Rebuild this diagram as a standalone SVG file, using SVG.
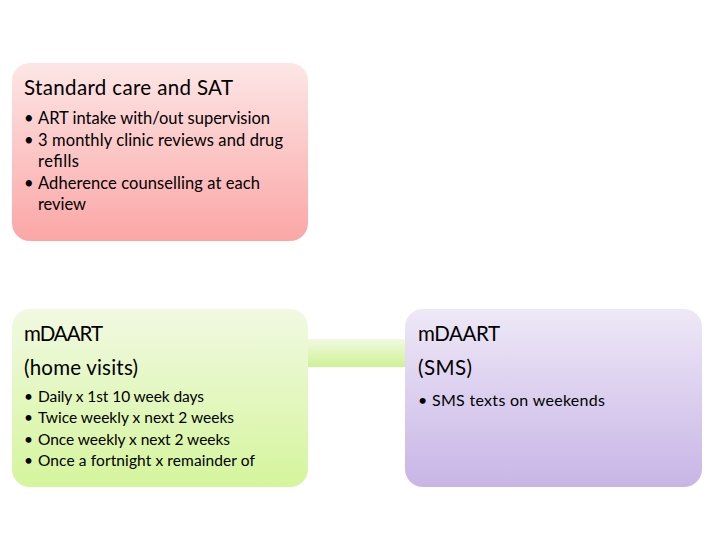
<svg xmlns="http://www.w3.org/2000/svg" width="720" height="540" viewBox="0 0 720 540">
<defs>
<linearGradient id="gPink" x1="0" y1="0" x2="0" y2="1"><stop offset="0" stop-color="#fde6e6"/><stop offset="1" stop-color="#fba6a6"/></linearGradient>
<linearGradient id="gGreen" x1="0" y1="0" x2="0" y2="1"><stop offset="0" stop-color="#f1f9e2"/><stop offset="1" stop-color="#d5f59c"/></linearGradient>
<linearGradient id="gPurple" x1="0" y1="0" x2="0" y2="1"><stop offset="0" stop-color="#eee8f7"/><stop offset="1" stop-color="#c8b5e6"/></linearGradient>
<linearGradient id="gBar" x1="0" y1="0" x2="0" y2="1"><stop offset="0" stop-color="#f1fae2"/><stop offset="1" stop-color="#cef294"/></linearGradient>
</defs>
<style>
text{font-family:Lato,"Open Sans","Liberation Sans",sans-serif;fill:#000}
.h{font-size:20.5px}
.b{font-size:16.5px}
.c{font-size:15.5px}
.s{font-size:16px}
</style>
<rect width="720" height="540" fill="#fff"/>
<g id="connectors">
<rect x="306" y="339" width="101" height="28" fill="url(#gBar)"/>
</g>
<g id="standard">
<rect x="12" y="63" width="296" height="178" rx="18" fill="url(#gPink)"/>
<text class="h" x="24" y="95" textLength="209">Standard care and SAT</text>
<text class="b" x="24" y="124">•</text><text class="b" x="38" y="124" textLength="232">ART intake with/out supervision</text>
<text class="b" x="24" y="146">•</text><text class="b" x="38" y="146" textLength="245">3 monthly clinic reviews and drug</text>
<text class="b" x="38" y="167" textLength="41">refills</text>
<text class="b" x="24" y="189">•</text><text class="b" x="38" y="189" textLength="222">Adherence counselling at each</text>
<text class="b" x="38" y="210" textLength="48">review</text>
</g>
<g id="home">
<rect x="12" y="309" width="296" height="178" rx="18" fill="url(#gGreen)"/>
<text class="h" x="24" y="341" textLength="79">mDAART</text>
<text class="h" x="24" y="375" textLength="114">(home visits)</text>
<text class="c" x="24" y="402">•</text><text class="c" x="38" y="402" textLength="166">Daily x 1st 10 week days</text>
<text class="c" x="24" y="423">•</text><text class="c" x="38" y="423" textLength="196">Twice weekly x next 2 weeks</text>
<text class="c" x="24" y="445">•</text><text class="c" x="38" y="445" textLength="192">Once weekly x next 2 weeks</text>
<text class="c" x="24" y="466">•</text><text class="c" x="38" y="466" textLength="217">Once a fortnight x remainder of</text>
</g>
<g id="sms">
<rect x="405" y="309" width="297" height="178" rx="18" fill="url(#gPurple)"/>
<text class="h" x="418" y="341" textLength="82">mDAART</text>
<text class="h" x="418" y="375" textLength="54">(SMS)</text>
<text class="s" x="418" y="406">•</text><text class="s" x="432" y="406" textLength="173">SMS texts on weekends</text>
</g>
</svg>
